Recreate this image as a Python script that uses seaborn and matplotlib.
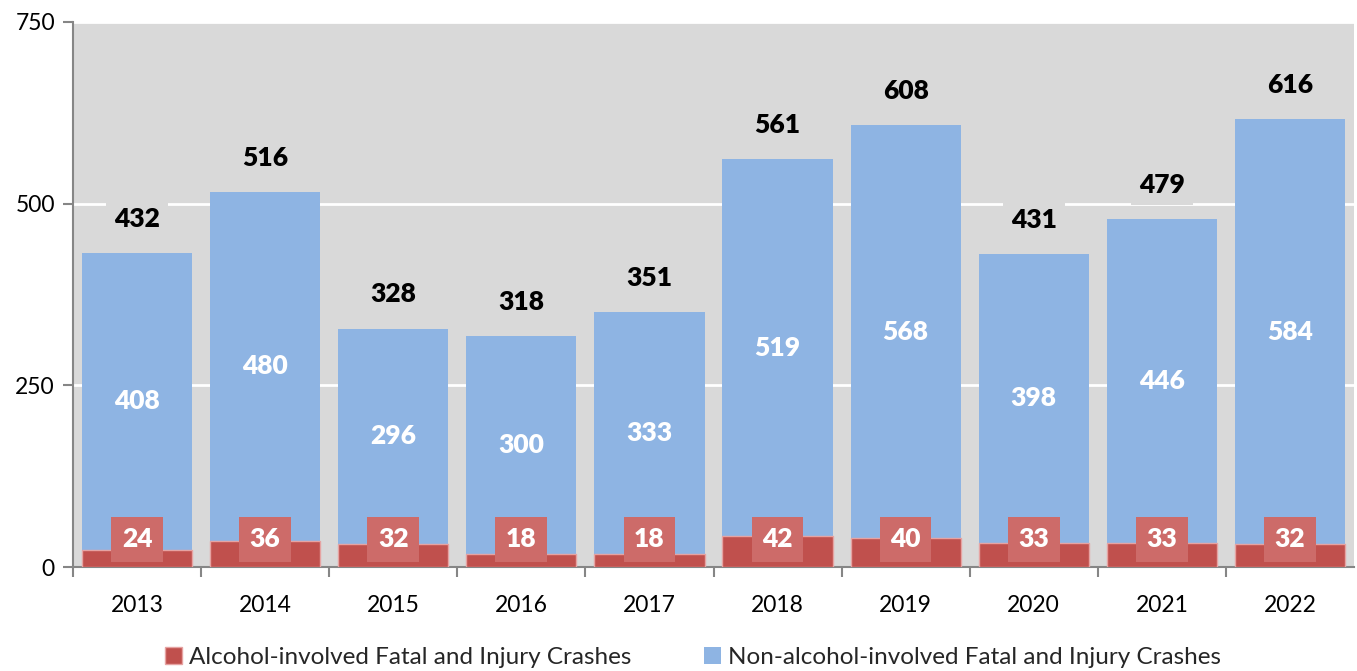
import matplotlib
matplotlib.use("Agg")
import matplotlib.pyplot as plt
import seaborn as sns
import pandas as pd
import numpy as np

years = ["2013", "2014", "2015", "2016", "2017", "2018", "2019", "2020", "2021", "2022"]
alcohol = [24, 36, 32, 18, 18, 42, 40, 33, 33, 32]
non_alcohol = [408, 480, 296, 300, 333, 519, 568, 398, 446, 584]
totals = [432, 516, 328, 318, 351, 561, 608, 431, 479, 616]

sns.set_theme(style="whitegrid")
plt.rcParams['font.family'] = ['Lato', 'DejaVu Sans']

BLUE = "#8EB4E3"
RED = "#C0504D"
BOXRED = "#CD6B69"
BG = "#D9D9D9"

df = pd.DataFrame({"year": years, "alcohol": alcohol, "non": non_alcohol, "total": totals})

fig = plt.figure(figsize=(13.57, 6.71), dpi=100)
ax = fig.add_axes([73/1357, 1 - 567/671, (1354-73)/1357, (567-22)/671])
ax.set_facecolor(BG)

sns.barplot(data=df, x="year", y="total", color=BLUE, width=0.86, ax=ax,
            saturation=1, label="Non-alcohol-involved Fatal and Injury Crashes", zorder=2,
            linewidth=0)
sns.barplot(data=df, x="year", y="alcohol", color=RED, width=0.86, ax=ax,
            saturation=1, label="Alcohol-involved Fatal and Injury Crashes", zorder=3,
            edgecolor="#E6A3A2", linewidth=1)

ax.set_ylim(0, 750)
ax.set_xlim(-0.5, len(years) - 0.5)
ax.set_yticks([0, 250, 500, 750])
ax.grid(axis="y", color="white", linewidth=2, zorder=0)
ax.grid(axis="x", visible=False)
ax.set_axisbelow(True)
ax.set_xlabel("")
ax.set_ylabel("")

for s in ["top", "right"]:
    ax.spines[s].set_visible(False)
for s in ["left", "bottom"]:
    ax.spines[s].set_color("#868686")
    ax.spines[s].set_linewidth(1.5)

ax.set_xticks(np.arange(len(years)) - 0.5, minor=True)
ax.tick_params(axis="x", which="major", length=0, labelsize=16.5, pad=20, colors="black")
ax.tick_params(axis="x", which="minor", length=7, width=1.5, color="#868686", bottom=True)
ax.tick_params(axis="y", length=7, width=1.5, color="#868686", labelsize=16.5, pad=6, left=True)
for lbl in ax.get_yticklabels() + ax.get_xticklabels():
    lbl.set_color("black")

for i in range(len(years)):
    ax.text(i, totals[i] + 47, str(totals[i]), ha="center", va="center",
            fontsize=19, fontweight="heavy", color="black", zorder=5,
            bbox=dict(boxstyle="square,pad=0.3", facecolor=BG, edgecolor="none"))
    ax.text(i, alcohol[i] + non_alcohol[i] / 2, str(non_alcohol[i]), ha="center", va="center",
            fontsize=19, fontweight="heavy", color="white", zorder=5)
    ax.text(i, 38, str(alcohol[i]), ha="center", va="center",
            fontsize=19, fontweight="heavy", color="white", zorder=5,
            bbox=dict(boxstyle="square,pad=0.4", facecolor=BOXRED, edgecolor="none"))

handles, labels = ax.get_legend_handles_labels()
order = [labels.index("Alcohol-involved Fatal and Injury Crashes"),
         labels.index("Non-alcohol-involved Fatal and Injury Crashes")]
ax.legend([handles[k] for k in order], [labels[k] for k in order],
          loc="lower center", bbox_to_anchor=(0.484, -0.225), ncol=2, frameon=False,
          fontsize=17.5, handlelength=0.7, handleheight=0.7, handletextpad=0.3,
          columnspacing=3.0)

fig.savefig("out.png", dpi=100, facecolor="white")
